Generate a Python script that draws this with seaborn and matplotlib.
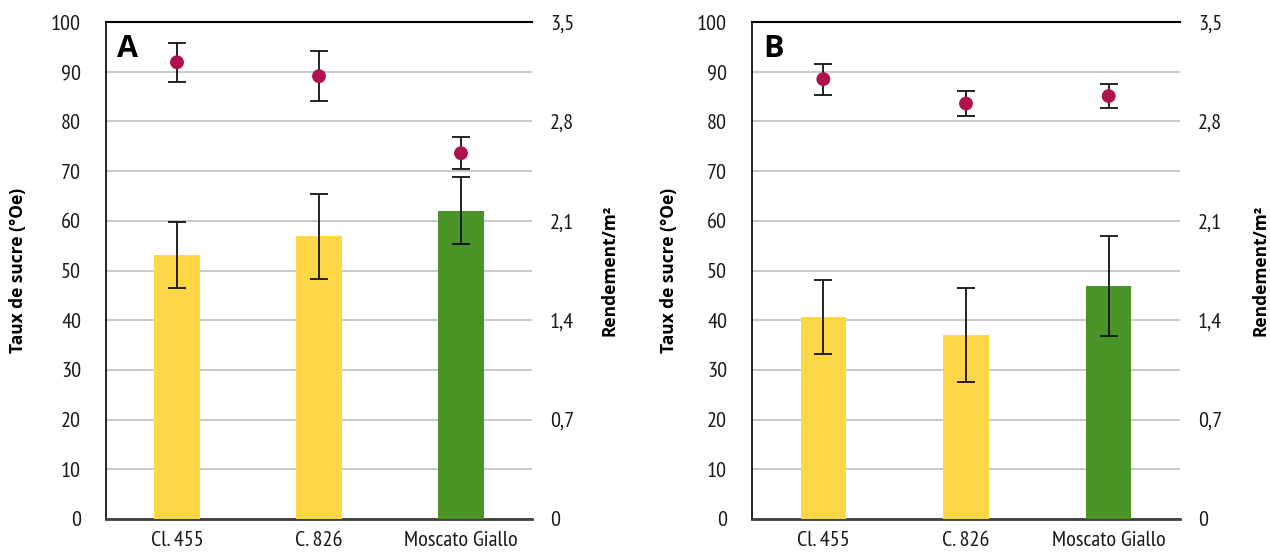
import numpy as np
import pandas as pd
import matplotlib
matplotlib.use("Agg")
import matplotlib.pyplot as plt
import seaborn as sns

# ---------------- data ----------------
categories = ["Cl. 455", "C. 826", "Moscato Giallo"]
bar_colors = ["#FDD745", "#FDD745", "#4A9326"]

# Panel A
yield_A = [1.86, 1.99, 2.17]          # Rendement/m2 (bars, right axis)
yield_err_A = [0.231, 0.301, 0.235]
sugar_A = [91.9, 89.1, 73.6]          # Taux de sucre (points, left axis)
sugar_err_A = [3.95, 5.0, 3.25]

# Panel B
yield_B = [1.42, 1.295, 1.64]
yield_err_B = [0.26, 0.333, 0.35]
sugar_B = [88.5, 83.6, 85.1]
sugar_err_B = [3.1, 2.55, 2.35]

left_ticks = [0, 10, 20, 30, 40, 50, 60, 70, 80, 90, 100]
right_ticks = [0, 0.7, 1.4, 2.1, 2.8, 3.5]
right_tick_labels = ["0", "0,7", "1,4", "2,1", "2,8", "3,5"]
panel_letters = ["A", "B"]
left_label = "Taux de sucre (°Oe)"
right_label = "Rendement/m²"

# ---------------- style ----------------
sns.set_theme(style="white")
plt.rcParams["font.family"] = ["PT Sans Narrow", "DejaVu Sans"]
label_family = ["Open Sans", "DejaVu Sans"]

fig = plt.figure(figsize=(12.7, 5.54), dpi=100)
W, H = 1270, 554

panels = [
    dict(left=106, right=532, yv=yield_A, ye=yield_err_A, sv=sugar_A, se=sugar_err_A,
         lx=-0.185, rx=1.16),
    dict(left=752, right=1180, yv=yield_B, ye=yield_err_B, sv=sugar_B, se=sugar_err_B,
         lx=-0.172, rx=1.168),
]
top_px, bot_px = 22, 519

tick_fs = 16
label_fs = 12.5
point_color = "#B01250"

for i, p in enumerate(panels):
    ax = fig.add_axes([p["left"] / W, 1 - bot_px / H,
                       (p["right"] - p["left"]) / W, (bot_px - top_px) / H])
    ax2 = ax.twinx()

    # bars (yield) on right axis
    df = pd.DataFrame({"cat": categories, "val": p["yv"]})
    sns.barplot(data=df, x="cat", y="val", hue="cat", palette=bar_colors,
                width=0.317, errorbar=None, legend=False, ax=ax2,
                saturation=1, linewidth=0)
    ax2.errorbar(np.arange(len(categories)), p["yv"], yerr=p["ye"], fmt="none",
                 ecolor="#111111", elinewidth=1.3, capsize=6.5, capthick=1.3, zorder=5)

    # points (sugar) on left axis
    dfp = pd.DataFrame({"cat": categories, "val": p["sv"]})
    ax.errorbar(np.arange(len(categories)), p["sv"], yerr=p["se"], fmt="none",
                ecolor="#111111", elinewidth=1.3, capsize=6.5, capthick=1.3, zorder=4)
    sns.scatterplot(data=dfp, x=np.arange(len(categories)), y="val", ax=ax,
                    color=point_color, s=100, edgecolor="none", zorder=6, legend=False)

    ax.set_xlim(-0.5, len(categories) - 0.5)
    ax.set_ylim(0, 100)
    ax.set_yticks(left_ticks)
    ax2.set_ylim(0, 3.5)
    ax2.set_yticks(right_ticks)
    ax2.set_yticklabels(right_tick_labels)
    ax.set_xticks(np.arange(len(categories)))
    ax.set_xticklabels(categories)

    ax.grid(axis="y", color="#C8C8C8", linewidth=1.4)
    ax.grid(axis="x", visible=False)
    ax2.grid(False)
    ax.set_axisbelow(True)

    for a in (ax, ax2):
        a.tick_params(length=0, labelsize=tick_fs, colors="#1A1A1A")
    ax.tick_params(axis="y", pad=18)
    ax2.tick_params(axis="y", pad=13)
    ax.tick_params(axis="x", pad=9)

    for a in (ax, ax2):
        for s in a.spines.values():
            s.set_visible(False)
    ax.spines["left"].set_visible(True)
    ax.spines["left"].set_color("#000000")
    ax.spines["left"].set_linewidth(1.2)
    ax.spines["top"].set_visible(True)
    ax.spines["top"].set_color("#000000")
    ax.spines["top"].set_linewidth(1.5)
    ax.spines["bottom"].set_visible(True)
    ax.spines["bottom"].set_color("#404040")
    ax.spines["bottom"].set_linewidth(2.0)

    ax.set_xlabel("")
    ax2.set_xlabel("")
    ax.set_ylabel(left_label, fontsize=label_fs, fontweight="bold", color="#000000",
                  family=label_family)
    ax2.set_ylabel(right_label, fontsize=label_fs, fontweight="bold", color="#000000",
                   family=label_family)
    ax.yaxis.set_label_coords(p["lx"], 0.5)
    ax2.yaxis.set_label_coords(p["rx"], 0.5)

    ax.text(0.026, 0.945, panel_letters[i], transform=ax.transAxes,
            fontsize=22, fontweight="bold", ha="left", va="center", color="#000000",
            family=label_family)

fig.savefig("out.png", dpi=100)
